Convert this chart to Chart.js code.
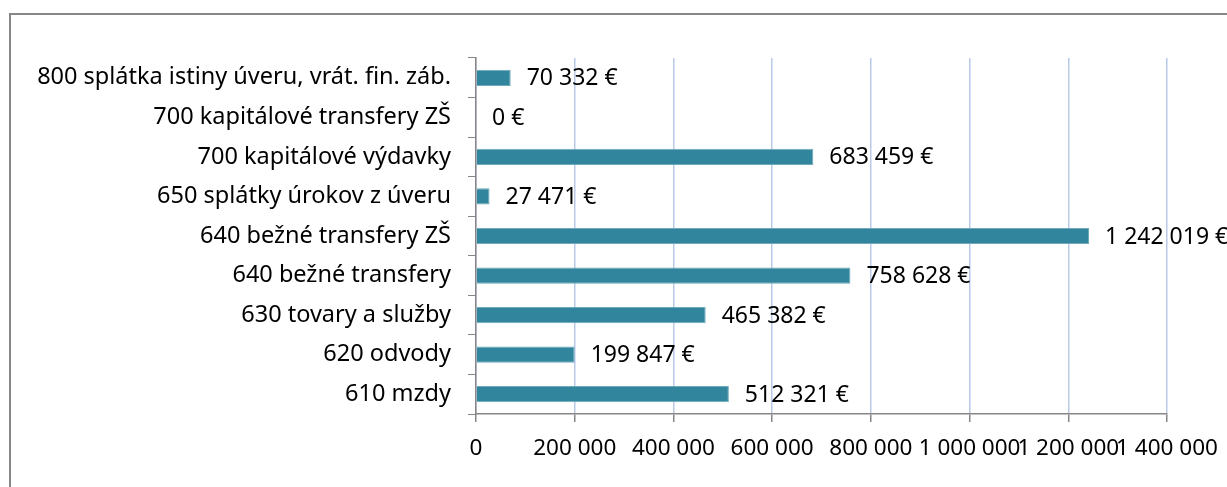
<!DOCTYPE html>
<html>
<head>
<meta charset="utf-8">
<script src="https://cdn.jsdelivr.net/npm/chart.js@4"></script>
<style>
  html, body { margin: 0; padding: 0; background: #fff; overflow: hidden; }
  #ramik { position: absolute; left: 9px; top: 13px; width: 1400px; height: 700px; border: 2px solid #878787; }
  #obal { position: absolute; left: 0; top: 0; width: 1227px; height: 487px; }
</style>
</head>
<body>
<div id="ramik"></div>
<div id="obal"><canvas id="grafVydavky"></canvas></div>
<script>
// polozky rozpoctu (zhora nadol ako v grafe)
const polozky = [
    "800 splátka istiny úveru, vrát. fin. záb.",
    "700 kapitálové transfery ZŠ",
    "700 kapitálové výdavky",
    "650 splátky úrokov z úveru",
    "640 bežné transfery ZŠ",
    "640 bežné transfery",
    "630 tovary a služby",
    "620 odvody",
    "610 mzdy"
];
const sumy = [70332, 0, 683459, 27471, 1242019, 758628, 465382, 199847, 512321];
const osX = [0, 200000, 400000, 600000, 800000, 1000000, 1200000, 1400000];

const pismo = "'Noto Sans', 'Open Sans', sans-serif";

// cislo s medzerou ako oddelovacom tisicov
function sMedzerou(n) {
    return String(n).replace(/\B(?=(\d{3})+(?!\d))/g, ' ');
}

// popisky hodnot za koncom stlpca
const popisky = {
    id: 'popisky',
    afterDatasetsDraw(chart) {
        const ctx = chart.ctx;
        const meta = chart.getDatasetMeta(0);
        ctx.save();
        ctx.font = "23px " + pismo;
        ctx.fillStyle = '#000';
        ctx.textBaseline = 'middle';
        ctx.textAlign = 'left';
        meta.data.forEach((bar, i) => {
            ctx.fillText(sMedzerou(sumy[i]) + ' €', bar.x + 16, bar.y + 1);
        });
        ctx.restore();
    }
};

new Chart(document.getElementById('grafVydavky').getContext('2d'), {
    type: 'bar',
    data: {
        labels: polozky,
        datasets: [{
            data: sumy,
            backgroundColor: '#31859c',
            borderColor: '#6fa9b9',
            borderWidth: 1,
            barPercentage: 0.41,
            categoryPercentage: 1
        }]
    },
    options: {
        indexAxis: 'y',
        responsive: true,
        maintainAspectRatio: false,
        animation: false,
        layout: { padding: { left: 0, right: 60, top: 58, bottom: 0 } },
        plugins: { legend: { display: false }, tooltip: { enabled: false } },
        scales: {
            x: {
                min: 0,
                max: 1400000,
                afterBuildTicks: s => { s.ticks = osX.map(v => ({ value: v })); },
                afterFit: s => { s.height = 73; s.paddingLeft = 0; s.paddingRight = 0; },
                border: { color: '#868686', width: 1.5 },
                grid: { color: '#b9cae9', lineWidth: 1.5, tickColor: '#868686', tickLength: 8 },
                ticks: {
                    autoSkip: false,
                    maxRotation: 0,
                    padding: 13,
                    color: '#000',
                    font: { family: pismo, size: 22.5 },
                    callback: v => sMedzerou(v)
                }
            },
            y: {
                afterFit: s => { s.width = 476; s.paddingTop = 0; s.paddingBottom = 0; },
                border: { color: '#868686', width: 1.5 },
                grid: { drawOnChartArea: false, offset: true, tickColor: '#868686', tickLength: 8 },
                ticks: {
                    padding: 17,
                    color: '#000',
                    font: { family: pismo, size: 23.5 }
                }
            }
        }
    },
    plugins: [popisky]
});
</script>
</body>
</html>
